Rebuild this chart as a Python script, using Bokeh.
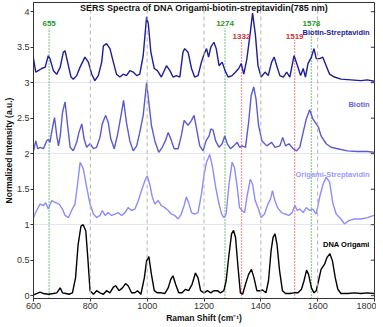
from bokeh.plotting import figure
from bokeh.models import Range1d, Span, Label, FixedTicker
from bokeh.embed import file_html
from bokeh.resources import INLINE

# ---- data (plotted, already offset) ----
bs_x = [600, 608, 617, 629, 641, 652, 658, 670, 682, 694, 705, 711, 720, 732, 740, 752, 764, 781, 793, 805, 816, 828, 840, 846, 857, 869, 881, 892, 904, 916, 927, 939, 951, 963, 974, 986, 998, 1004, 1013, 1025, 1036, 1050, 1068, 1080, 1091, 1103, 1115, 1126, 1132, 1144, 1156, 1167, 1179, 1191, 1200,
        1209, 1216, 1224, 1235, 1243, 1253, 1264, 1274, 1285, 1299, 1311, 1322, 1331, 1340, 1351, 1363, 1371, 1381, 1390, 1401, 1415, 1426, 1438, 1447, 1456, 1467, 1479, 1491, 1502, 1517, 1529, 1540, 1549, 1557, 1566, 1578, 1587, 1595, 1607, 1618, 1630, 1642, 1659, 1682, 1717, 1752, 1775, 1798]
bs_y = [3.34, 3.15, 3.17, 3.20, 3.22, 3.38, 3.34, 3.17, 3.12, 3.22, 3.43, 3.45, 3.29, 3.08, 3.05, 3.10, 3.22, 3.36, 3.29, 3.12, 3.03, 3.10, 3.29, 3.52, 3.55, 3.48, 3.29, 3.12, 3.08, 3.12, 3.10, 3.17, 3.15, 3.10, 3.12, 3.38, 3.93, 3.83, 3.43, 3.20, 3.17, 3.08, 3.24, 3.17, 3.08, 3.10, 3.08, 3.43, 3.48, 3.43, 3.20, 3.08, 3.10, 3.29, 3.40,
        3.48, 3.36, 3.50, 3.57, 3.48, 3.24, 3.29, 3.17, 3.08, 3.10, 3.15, 3.20, 3.27, 3.12, 3.34, 3.71, 3.98, 3.67, 3.24, 3.08, 3.15, 3.10, 3.29, 3.36, 3.24, 3.10, 3.08, 3.15, 3.08, 3.38, 3.24, 3.10, 3.20, 3.08, 3.27, 3.36, 3.48, 3.34, 3.34, 3.36, 3.24, 3.12, 3.08, 3.05, 3.04, 3.03, 3.04, 3.02]

bi_x = [600, 608, 615, 623, 635, 646, 652, 658, 666, 674, 682, 688, 694, 702, 711, 720, 729, 740, 752, 760, 770, 778, 787, 799, 811, 822, 834, 842, 854, 863, 872, 884, 895, 908, 917, 927, 939, 951, 963, 974, 986, 998, 1006, 1015, 1027, 1041, 1053, 1064, 1074, 1083, 1095, 1109, 1120, 1130, 1144, 1156, 1165, 1173, 1185, 1197,
        1207, 1218, 1224, 1232, 1241, 1253, 1264, 1273, 1282, 1293, 1305, 1317, 1325, 1334, 1346, 1357, 1366, 1375, 1383, 1392, 1404, 1421, 1438, 1450, 1467, 1477, 1487, 1499, 1514, 1526, 1537, 1549, 1560, 1572, 1583, 1595, 1603, 1612, 1630, 1647, 1670, 1705, 1740, 1775, 1798]
bi_y = [2.04, 2.18, 2.07, 2.09, 2.07, 2.18, 2.20, 2.16, 2.35, 2.51, 2.25, 2.11, 2.25, 2.58, 2.73, 2.40, 2.09, 2.04, 2.16, 2.30, 2.42, 2.21, 2.09, 2.14, 2.07, 2.09, 2.23, 2.42, 2.54, 2.44, 2.21, 2.07, 2.25, 2.54, 2.75, 2.44, 2.18, 2.04, 2.11, 2.30, 2.54, 3.00, 2.72, 2.40, 2.18, 2.02, 2.09, 2.18, 2.30, 2.21, 2.07, 2.07, 2.25, 2.47, 2.40, 2.47, 2.54, 2.37, 2.11, 2.04,
        2.18, 2.25, 2.35, 2.33, 2.18, 2.09, 2.14, 2.25, 2.14, 2.07, 2.11, 2.16, 2.09, 2.11, 2.09, 2.44, 2.82, 2.94, 2.77, 2.40, 2.18, 2.11, 2.16, 2.09, 2.11, 2.23, 2.11, 2.14, 2.07, 2.04, 2.09, 2.30, 2.49, 2.62, 2.49, 2.42, 2.37, 2.25, 2.14, 2.09, 2.07, 2.04, 2.03, 2.03, 2.02]

os_x = [600, 611, 623, 635, 643, 652, 664, 678, 690, 702, 711, 723, 734, 746, 755, 764, 775, 787, 799, 811, 822, 834, 842, 852, 863, 875, 887, 898, 910, 922, 933, 945, 957, 969, 980, 992, 1000, 1009, 1018, 1027, 1039, 1050, 1062, 1074, 1085, 1097, 1109, 1120, 1130, 1138, 1146, 1156, 1167, 1179, 1191, 1200,
        1209, 1220, 1230, 1241, 1253, 1262, 1270, 1278, 1288, 1299, 1307, 1317, 1325, 1334, 1343, 1351, 1363, 1371, 1380, 1390, 1401, 1413, 1425, 1434, 1441, 1448, 1459, 1473, 1485, 1499, 1510, 1520, 1528, 1537, 1549, 1560, 1572, 1583, 1595, 1607, 1619, 1630, 1642, 1653, 1665, 1682, 1694, 1711, 1729, 1752, 1775, 1798]
os_y = [1.10, 1.20, 1.29, 1.27, 1.31, 1.22, 1.34, 1.31, 1.29, 1.22, 1.13, 1.10, 1.20, 1.29, 1.57, 1.88, 1.79, 1.53, 1.29, 1.15, 1.10, 1.13, 1.20, 1.13, 1.17, 1.13, 1.15, 1.17, 1.13, 1.17, 1.24, 1.20, 1.22, 1.34, 1.48, 1.62, 1.69, 1.57, 1.39, 1.29, 1.34, 1.27, 1.24, 1.20, 1.15, 1.13, 1.08, 1.15, 1.27, 1.39, 1.31, 1.17, 1.15, 1.17, 1.43, 1.70,
        1.88, 1.99, 1.81, 1.53, 1.29, 1.15, 1.10, 1.15, 1.57, 1.88, 1.81, 1.53, 1.24, 1.20, 1.17, 1.39, 1.64, 1.57, 1.34, 1.24, 1.10, 1.15, 1.29, 1.36, 1.48, 1.36, 1.24, 1.17, 1.15, 1.13, 1.17, 1.27, 1.20, 1.22, 1.17, 1.24, 1.20, 1.22, 1.15, 1.39, 1.57, 1.67, 1.60, 1.31, 1.15, 1.08, 1.01, 1.06, 1.08, 1.08, 1.10, 1.13]

do_x = [600, 611, 623, 635, 652, 670, 682, 694, 702, 714, 725, 737, 748, 757, 767, 775, 784, 791, 799, 811, 822, 834, 846, 857, 869, 881, 889, 901, 913, 924, 933, 945, 957, 966, 978, 990, 998, 1006, 1015, 1025, 1036, 1050, 1062, 1074, 1083, 1091, 1100, 1111, 1123, 1135, 1146, 1158, 1170, 1179, 1188, 1200,
        1212, 1224, 1235, 1247, 1258, 1270, 1278, 1288, 1297, 1304, 1311, 1320, 1328, 1336, 1346, 1357, 1367, 1376, 1386, 1398, 1406, 1418, 1427, 1436, 1443, 1450, 1457, 1466, 1476, 1487, 1502, 1517, 1531, 1543, 1552, 1561, 1568, 1578, 1587, 1595, 1603, 1612, 1624, 1633, 1643, 1652, 1662, 1671, 1682, 1705, 1729, 1752, 1775, 1798]
do_y = [0.01, 0.03, 0.05, 0.03, 0.02, 0.03, 0.04, 0.11, 0.04, 0.03, 0.02, 0.04, 0.25, 0.72, 0.98, 1.00, 0.91, 0.54, 0.07, 0.02, 0.07, 0.04, 0.02, 0.07, 0.04, 0.12, 0.14, 0.07, 0.11, 0.17, 0.14, 0.04, 0.04, 0.07, 0.02, 0.25, 0.49, 0.55, 0.30, 0.07, 0.04, 0.04, 0.03, 0.11, 0.23, 0.28, 0.16, 0.04, 0.04, 0.09, 0.07, 0.16, 0.32, 0.25, 0.07, 0.04,
        0.07, 0.04, 0.07, 0.07, 0.04, 0.07, 0.21, 0.58, 0.87, 0.92, 0.82, 0.39, 0.04, 0.02, 0.16, 0.30, 0.37, 0.25, 0.07, 0.07, 0.08, 0.04, 0.21, 0.63, 0.82, 0.87, 0.72, 0.35, 0.07, 0.03, 0.03, 0.04, 0.04, 0.09, 0.21, 0.36, 0.30, 0.11, 0.04, 0.07, 0.21, 0.37, 0.44, 0.54, 0.59, 0.49, 0.25, 0.09, 0.03, 0.03, 0.04, 0.03, 0.04, 0.03]

series_names = ["Biotin-Streptavidin", "Biotin", "Origami-Streptavidin", "DNA Origami"]
series_colors = ["#1c1c9c", "#5a5ad2", "#8c8cff", "#000000"]
label_colors = ["#1c1c9c", "#6464d8", "#9a9aff", "#000000"]
series_label_y = [3.71, 2.69, 1.70, 0.72]

grid_lines_x = [800, 1000, 1200, 1400, 1600]
green_peaks = [655, 1274, 1578]
red_peaks = [1332, 1519]

x_ticks = [600, 800, 1000, 1200, 1400, 1600, 1800]
y_ticks = [0, 0.5, 1, 1.5, 2, 2.5, 3, 3.5, 4]

X0, X1, Y0, Y1 = 600, 1800, -0.04, 4.13
FONT = "Liberation Sans"

p = figure(width=376, height=325, output_backend="svg", toolbar_location=None,
           x_range=Range1d(X0, X1), y_range=Range1d(Y0, Y1),
           min_border_left=26, min_border_right=2, min_border_top=2, min_border_bottom=24)
p.xgrid.visible = False
p.ygrid.ticker = FixedTicker(ticks=[1, 2, 3])
p.ygrid.grid_line_color = "#e4e4f4"
p.ygrid.grid_line_width = 1
p.outline_line_color = "#333333"
p.outline_line_width = 1

for ax in (p.xaxis[0], p.yaxis[0]):
    ax.axis_line_color = "#333333"
    ax.major_tick_line_color = "#333333"
    ax.minor_tick_line_color = None
    ax.major_tick_in = 0
    ax.major_tick_out = 3
    ax.major_label_text_font = FONT
    ax.major_label_text_font_size = "9px"
    ax.major_label_text_color = "#333333"
    ax.axis_label_text_font = FONT
    ax.axis_label_text_font_size = "8.5px"
    ax.axis_label_text_font_style = "bold"
    ax.axis_label_text_color = "#111111"
    ax.major_label_standoff = 1
    ax.axis_label_standoff = 1

p.yaxis[0].axis_label_standoff = 0
p.xaxis.ticker = FixedTicker(ticks=x_ticks)
p.yaxis.ticker = FixedTicker(ticks=y_ticks)
p.xaxis.axis_label = "Raman Shift (cm\u207b\u00b9)"
p.yaxis.axis_label = "Normalized Intensity (a.u.)"

# inward tick marks on the right frame edge
p.segment(x0=[X1] * len(y_ticks), y0=y_ticks, x1=[X1 - 13] * len(y_ticks), y1=y_ticks,
          line_color="#333333", line_width=1)

# reference lines
for gx in grid_lines_x:
    p.add_layout(Span(location=gx, dimension="height", line_color="#b4b4b4",
                      line_dash="4 3", line_width=1))
for gx in green_peaks:
    p.segment(x0=[gx], y0=[Y0], x1=[gx], y1=[3.77], line_color="#2ca02c",
              line_dash="1 2", line_width=1.3)
    p.add_layout(Label(x=gx, y=3.80, text=str(gx), text_align="center", text_baseline="bottom",
                       text_font=FONT, text_font_size="8px", text_font_style="bold",
                       text_color="#1e9a1e"))
for gx in red_peaks:
    p.segment(x0=[gx], y0=[Y0], x1=[gx], y1=[3.60], line_color="#e03c3c",
              line_dash="1 2", line_width=1.3)
    p.add_layout(Label(x=gx, y=3.62, text=str(gx), text_align="center", text_baseline="bottom",
                       text_font=FONT, text_font_size="8px", text_font_style="bold",
                       text_color="#c83232"))

# spectra
data = [(bs_x, bs_y), (bi_x, bi_y), (os_x, os_y), (do_x, do_y)]
for (xs, ys), c in zip(data, series_colors):
    p.line(xs, ys, line_color=c, line_width=1.4)

for name, c, ly in zip(series_names, label_colors, series_label_y):
    p.add_layout(Label(x=1783, y=ly, text=name, text_align="right", text_baseline="middle",
                       text_font=FONT, text_font_size="7.5px", text_font_style="bold",
                       text_color=c))

p.add_layout(Label(x=1200, y=Y1, text="SERS Spectra of DNA Origami-biotin-streptavidin(785 nm)",
                   text_align="center", text_baseline="top", text_font=FONT,
                   text_font_size="9px", text_font_style="bold", text_color="#111111"))

open("out.html", "w").write(file_html(p, INLINE))
